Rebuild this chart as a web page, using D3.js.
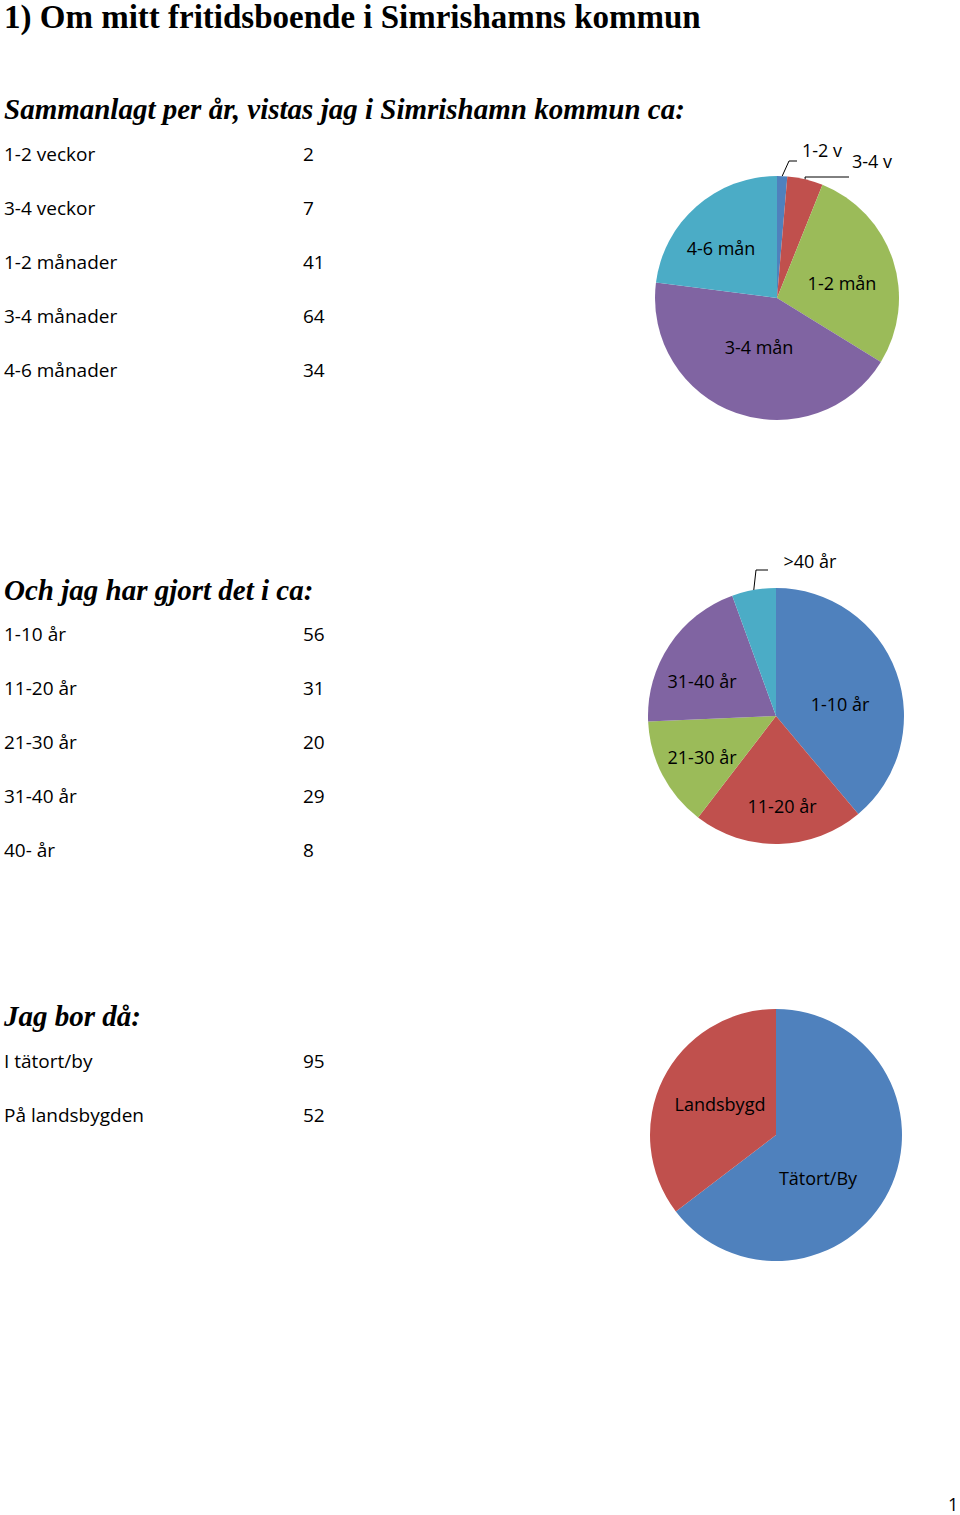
<!DOCTYPE html>
<html><head><meta charset="utf-8">
<script src="https://cdn.jsdelivr.net/npm/d3@7"></script>
<style>body{margin:0;background:#fff}</style>
</head><body>
<svg id="c" width="960" height="1515"></svg>
<script>
// data
var stayLabels = ["1-2 veckor", "3-4 veckor", "1-2 månader", "3-4 månader", "4-6 månader"];
var stayShort = ["1-2 v", "3-4 v", "1-2 mån", "3-4 mån", "4-6 mån"];
var stayValues = [2, 7, 41, 64, 34];

var yearsLabels = ["1-10 år", "11-20 år", "21-30 år", "31-40 år", "40- år"];
var yearsShort = ["1-10 år", "11-20 år", "21-30 år", "31-40 år", ">40 år"];
var yearsValues = [56, 31, 20, 29, 8];

var liveLabels = ["I tätort/by", "På landsbygden"];
var liveShort = ["Tätort/By", "Landsbygd"];
var liveValues = [95, 52];

var colors = ["#4F81BD", "#C0504D", "#9BBB59", "#8064A2", "#4BACC6"];

var svg = d3.select("#c");
var sans = "'Open Sans', 'Liberation Sans', sans-serif";
var serif = "'Liberation Serif', 'DejaVu Serif', serif";

svg.append("text").attr("x", 4).attr("y", 28).attr("font-family", serif)
    .attr("font-weight", "bold").attr("font-size", 33).text("1) Om mitt fritidsboende i Simrishamns kommun");
svg.append("text").attr("x", 948).attr("y", 1511).attr("font-family", sans)
    .attr("font-size", 18).text("1");

function section(opts) {
    svg.append("text").attr("x", 4).attr("y", opts.headY).attr("font-family", serif)
        .attr("font-weight", "bold").attr("font-style", "italic").attr("font-size", 29).text(opts.head);
    opts.labels.forEach(function (l, i) {
        var y = opts.rowY + i * 54;
        svg.append("text").attr("x", 4).attr("y", y).attr("font-family", sans).attr("font-size", 19).text(l);
        svg.append("text").attr("x", 303).attr("y", y).attr("font-family", sans).attr("font-size", 19).text(opts.values[i]);
    });

    var g = svg.append("g").attr("transform", "translate(" + opts.cx + "," + opts.cy + ")");
    var pie = d3.pie().sort(null).value(function (d) { return d; });
    var arc = d3.arc().innerRadius(0).outerRadius(opts.r);
    var arcs = pie(opts.values);
    g.selectAll("path").data(arcs).enter().append("path")
        .attr("d", arc).attr("fill", function (d, i) { return colors[i]; });

    arcs.forEach(function (d, i) {
        var lp = opts.labelPos[i];
        if (lp.line) {
            var a = (d.startAngle + d.endAngle) / 2;
            var px = Math.sin(a) * opts.r, py = -Math.cos(a) * opts.r;
            g.append("polyline").attr("fill", "none").attr("stroke", "#000").attr("stroke-width", 1)
                .attr("points", [[px, py], lp.line[0], lp.line[1]].map(function (p) { return p.join(","); }).join(" "));
        }
        g.append("text").attr("x", lp.x).attr("y", lp.y).attr("text-anchor", "middle")
            .attr("font-family", sans).attr("font-size", 18).text(opts.short[i]);
    });
}

section({
    head: "Sammanlagt per år,  vistas jag i Simrishamn kommun ca:", headY: 119, rowY: 161,
    labels: stayLabels, values: stayValues, short: stayShort,
    cx: 777, cy: 298, r: 122,
    labelPos: [
        {x: 45, y: -141, line: [[12, -137], [20, -137]]},
        {x: 95, y: -130, line: [[28, -121], [72, -121]]},
        {x: 65, y: -8}, {x: -18, y: 56}, {x: -56, y: -43}
    ]
});

section({
    head: "Och jag har gjort det i ca:", headY: 600, rowY: 641,
    labels: yearsLabels, values: yearsValues, short: yearsShort,
    cx: 776, cy: 716, r: 128,
    labelPos: [
        {x: 64, y: -5}, {x: 6, y: 97}, {x: -74, y: 48}, {x: -74, y: -28},
        {x: 34, y: -148, line: [[-20, -146], [-8, -146]]}
    ]
});

section({
    head: "Jag bor då:", headY: 1026, rowY: 1068,
    labels: liveLabels, values: liveValues, short: liveShort,
    cx: 776, cy: 1135, r: 126,
    labelPos: [{x: 42, y: 50}, {x: -56, y: -24}]
});
</script>
</body></html>
